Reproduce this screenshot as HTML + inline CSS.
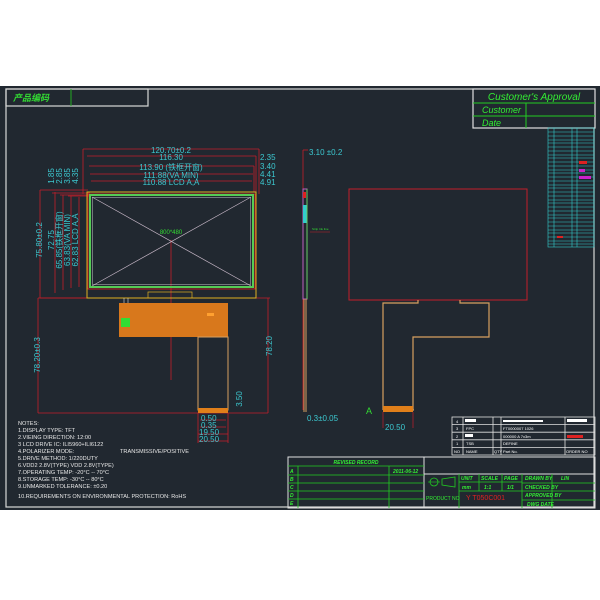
<!DOCTYPE html>
<html><head><meta charset="utf-8"><style>
html,body{margin:0;padding:0;background:#fff;}
svg{display:block;}
text{font-family:"Liberation Sans","Noto Sans CJK SC",sans-serif;}
</style></head><body>
<svg width="600" height="600" viewBox="0 0 600 600" xmlns="http://www.w3.org/2000/svg">
<rect x="0" y="0" width="600" height="600" fill="#fff"/>
<rect x="0" y="86" width="600" height="424" fill="#212830"/>
<rect x="6" y="89" width="588" height="418" fill="none" stroke="#d8d8d8" stroke-width="1.2"/>
<rect x="6" y="89" width="142" height="17" fill="none" stroke="#d8d8d8" stroke-width="1.2"/>
<line x1="71" y1="89" x2="71" y2="106" stroke="#2a2" />
<text x="13" y="101" font-size="9" fill="#33dd33" font-style="italic" font-weight="bold">产品编码</text>
<rect x="473" y="89" width="122" height="39" fill="#212830" stroke="#e0e0e0" stroke-width="1.2"/>
<line x1="473" y1="103" x2="595" y2="103" stroke="#2c2"/>
<line x1="473" y1="116" x2="595" y2="116" stroke="#2c2"/>
<line x1="526" y1="103" x2="526" y2="128" stroke="#2c2"/>
<text x="534" y="100" font-size="10" fill="#33ee33" font-style="italic" text-anchor="middle">Customer's Approval</text>
<text x="482" y="113" font-size="9" fill="#33ee33" font-style="italic">Customer</text>
<text x="482" y="126" font-size="9" fill="#33ee33" font-style="italic">Date</text>
<g stroke="#3cc" stroke-width="0.6" fill="none">
<rect x="548" y="128" width="46" height="119"/>
<line x1="554" y1="128" x2="554" y2="247"/><line x1="572" y1="128" x2="572" y2="247"/><line x1="577" y1="128" x2="577" y2="247"/>
<path d="M548 132H594M548 136H594M548 140H594M548 143H594M548 147H594M548 151H594M548 155H594M548 158H594M548 162H594M548 166H594M548 170H594M548 173H594M548 177H594M548 181H594M548 185H594M548 188H594M548 192H594M548 196H594M548 200H594M548 203H594M548 207H594M548 211H594M548 215H594M548 218H594M548 222H594M548 226H594M548 230H594M548 233H594M548 237H594M548 241H594M548 244H594"/>
</g>
<rect x="579" y="161" width="8" height="3" fill="#d22"/><rect x="579" y="169" width="6" height="3" fill="#c2c"/><rect x="579" y="176" width="12" height="3" fill="#c2c"/><rect x="557" y="236" width="6" height="2" fill="#d22"/>
<g stroke="#c41e2a" stroke-width="0.8" fill="none">
<line x1="83" y1="149" x2="259" y2="149"/>
<line x1="87" y1="156" x2="256" y2="156"/>
<line x1="89" y1="166" x2="254" y2="166"/>
<line x1="90" y1="174" x2="253" y2="174"/>
<line x1="91" y1="181" x2="252" y2="181"/>
<line x1="83" y1="149" x2="83" y2="194"/><line x1="259" y1="149" x2="259" y2="194"/>
<line x1="256" y1="156" x2="256" y2="192"/><line x1="254" y1="166" x2="254" y2="192"/>
<line x1="40" y1="190" x2="88" y2="190"/><line x1="40" y1="298" x2="88" y2="298"/>
<line x1="40" y1="190" x2="40" y2="298"/>
<line x1="55" y1="192" x2="55" y2="293"/><line x1="63" y1="195" x2="63" y2="290"/><line x1="71" y1="196" x2="71" y2="288"/><line x1="79" y1="197" x2="79" y2="287"/>
<line x1="52" y1="193" x2="90" y2="193"/><line x1="60" y1="195" x2="90" y2="195"/><line x1="68" y1="196" x2="90" y2="196"/>
<line x1="38" y1="298" x2="38" y2="413"/><line x1="268" y1="298" x2="268" y2="413"/>
<line x1="38" y1="413" x2="268" y2="413"/><line x1="38" y1="298" x2="270" y2="298"/>
<line x1="171" y1="240" x2="171" y2="380"/>
<line x1="198" y1="413" x2="198" y2="443"/><line x1="228" y1="413" x2="228" y2="443"/>
<line x1="200" y1="420" x2="226" y2="420"/><line x1="200" y1="427" x2="226" y2="427"/><line x1="198" y1="434" x2="228" y2="434"/><line x1="198" y1="441" x2="228" y2="441"/>
</g>
<rect x="87" y="192" width="169" height="106" fill="none" stroke="#e0b020" stroke-width="1"/>
<rect x="88" y="194" width="167" height="95" fill="none" stroke="#d22" stroke-width="0.8"/>
<rect x="90" y="195" width="163" height="92" fill="none" stroke="#5c5" stroke-width="2"/>
<rect x="92.5" y="197.5" width="158" height="87" fill="none" stroke="#c8c8c8" stroke-width="0.5"/>
<line x1="92" y1="197" x2="251" y2="286" stroke="#c8b8c8" stroke-width="0.7"/>
<line x1="251" y1="197" x2="92" y2="286" stroke="#c8b8c8" stroke-width="0.7"/>
<text x="171" y="234" font-size="6" fill="#33dd33" text-anchor="middle">800*480</text>
<rect x="148" y="292" width="44" height="6" fill="none" stroke="#e0b020" stroke-width="0.7"/>
<rect x="119" y="303" width="109" height="34" fill="#d8781c"/>
<rect x="121" y="318" width="9" height="9" fill="#33dd33"/>
<rect x="207" y="313" width="7" height="3" fill="#ffa030"/>
<line x1="124" y1="298" x2="124" y2="303" stroke="#ddd" stroke-width="0.6"/><line x1="128" y1="298" x2="128" y2="303" stroke="#ddd" stroke-width="0.6"/>
<rect x="198" y="337" width="30" height="73" fill="none" stroke="#d8a060" stroke-width="1"/>
<rect x="198" y="408" width="30" height="5" fill="#e07f1a"/>
<g fill="#3cc8d0" font-size="8" font-family="Liberation Mono,monospace">
<text x="171" y="153" text-anchor="middle">120.70±0.2</text>
<text x="171" y="160" text-anchor="middle">116.30</text>
<text x="171" y="170" text-anchor="middle">113.90 (铁框开窗)</text>
<text x="171" y="178" text-anchor="middle">111.88(VA  MIN)</text>
<text x="171" y="185" text-anchor="middle">110.88 LCD A,A</text>
<text x="260" y="160">2.35</text><text x="260" y="169">3.40</text><text x="260" y="177">4.41</text><text x="260" y="185">4.91</text>
<text transform="translate(42,240) rotate(-90)" text-anchor="middle">75.80±0.2</text>
<text transform="translate(54,240) rotate(-90)" text-anchor="middle">72.75</text>
<text transform="translate(62,240) rotate(-90)" text-anchor="middle">65.85(铁框开窗)</text>
<text transform="translate(70,240) rotate(-90)" text-anchor="middle">63.83(VA MIN)</text>
<text transform="translate(78,240) rotate(-90)" text-anchor="middle">62.83 LCD A,A</text>
<text transform="translate(54,176) rotate(-90)" text-anchor="middle">1.85</text>
<text transform="translate(62,176) rotate(-90)" text-anchor="middle">2.85</text>
<text transform="translate(70,176) rotate(-90)" text-anchor="middle">3.85</text>
<text transform="translate(78,176) rotate(-90)" text-anchor="middle">4.35</text>
<text transform="translate(40,355) rotate(-90)" text-anchor="middle">78.20±0.3</text>
<text transform="translate(272,346) rotate(-90)" text-anchor="middle">78.20</text>
<text transform="translate(242,399) rotate(-90)" text-anchor="middle">3.50</text>
<text x="201" y="421">0.50</text><text x="201" y="428">0.35</text><text x="199" y="435">19.50</text><text x="199" y="442">20.50</text>
<text x="309" y="155">3.10 ±0.2</text>
<text x="307" y="421">0.3±0.05</text>
<text x="385" y="430">20.50</text>
</g>
<line x1="303" y1="150" x2="303" y2="410" stroke="#c41e2a" stroke-width="0.8"/>
<line x1="303" y1="150" x2="308" y2="150" stroke="#c41e2a" stroke-width="0.8"/>
<rect x="303" y="189" width="4" height="110" fill="none" stroke="#c060c0" stroke-width="1"/>
<rect x="303" y="205" width="4" height="18" fill="#3cc"/>
<rect x="303" y="192" width="3" height="6" fill="#d22"/>
<line x1="307" y1="189" x2="307" y2="299" stroke="#6c6" stroke-width="1"/>
<line x1="304" y1="299" x2="304" y2="412" stroke="#d8a060" stroke-width="1"/>
<line x1="306" y1="299" x2="306" y2="412" stroke="#d8a060" stroke-width="1"/>
<text x="312" y="230" font-size="3" fill="#3d3">Strip  Ink line</text>
<line x1="310" y1="232" x2="330" y2="232" stroke="#c41e2a" stroke-width="0.5"/>
<rect x="349" y="189" width="178" height="111" fill="none" stroke="#c41e2a" stroke-width="1"/>
<path d="M418 300V303H383V410M413 410V337H489V303H460V300M414 410H383" fill="none" stroke="#d8a060" stroke-width="1.2"/>
<rect x="383" y="406" width="30" height="6" fill="#e07f1a"/>
<text x="366" y="414" font-size="9" fill="#33dd33">A</text>
<line x1="383" y1="412" x2="383" y2="428" stroke="#c41e2a" stroke-width="0.7"/><line x1="413" y1="412" x2="413" y2="428" stroke="#c41e2a" stroke-width="0.7"/>
<g fill="#e8e8e8" font-size="5.6" font-family="Liberation Mono,monospace">
<text x="18" y="425">NOTES:</text>
<text x="18" y="432">1.DISPLAY TYPE:       TFT</text>
<text x="18" y="439">2.VIEING DIRECTION:   12:00</text>
<text x="18" y="446">3 LCD DRIVE IC:    ILI5960+ILI6122</text>
<text x="18" y="453">4.POLARIZER MODE:</text><text x="120" y="453">TRANSMISSIVE/POSITIVE</text>
<text x="18" y="460">5.DRIVE METHOD:       1/220DUTY</text>
<text x="18" y="467">6.VDD2 2.8V(TYPE)     VDD 2.8V(TYPE)</text>
<text x="18" y="474">7.OPERATING TEMP:      -20°C -- 70°C</text>
<text x="18" y="481">8.STORAGE TEMP:        -30°C -- 80°C</text>
<text x="18" y="488">9.UNMARKED TOLERANCE: ±0.20</text>
<text x="18" y="498">10.REQUIREMENTS ON ENVIRONMENTAL PROTECTION: RoHS</text>
</g>
<g stroke="#e0e0e0" stroke-width="0.8" fill="none">
<rect x="452" y="417" width="143" height="38"/>
<path d="M452 424.6H595M452 432.2H595M452 439.8H595M452 447.4H595M463 417V455M493 417V455M501 417V455M565 417V455"/>
</g>
<g fill="#fff" font-size="4">
<text x="456" y="423">4</text><text x="456" y="430">3</text><text x="456" y="438">2</text><text x="456" y="445">1</text><text x="454" y="453">NO</text>
<text x="466" y="430">FPC</text><text x="466" y="445">TSB</text><text x="466" y="453">NAME</text><text x="494" y="453">QTY</text><text x="503" y="453">Part No.</text><text x="566" y="453">ORDER NO</text>
<text x="503" y="430">FT0000007 1026</text><text x="503" y="438">000000 A  7x3m</text><text x="503" y="445">DEFINE</text>
</g>
<rect x="465" y="419" width="11" height="3" fill="#fff"/><rect x="465" y="434" width="8" height="3" fill="#fff"/><rect x="503" y="420" width="40" height="2" fill="#fff"/><rect x="567" y="419" width="20" height="3" fill="#fff"/><rect x="567" y="435" width="16" height="3" fill="#d22"/>
<g stroke="#e0e0e0" stroke-width="1" fill="none">
<rect x="288" y="457" width="307" height="51"/>
<line x1="424" y1="457" x2="424" y2="508"/>
<line x1="424" y1="474" x2="595" y2="474"/>
</g>
<g stroke="#2c2" stroke-width="0.8" fill="none">
<path d="M288 466H424M288 475H424M288 483H424M288 491H424M288 499H424M298 466V508M389 466V508"/>
<path d="M459 474V508M479 474V491M502 474V491M522 474V508M459 482H522M459 491H522M522 483H595M522 491H595M522 500H595M552 474V508"/>
</g>
<g fill="#33ee33" font-size="5" font-style="italic" font-weight="bold">
<text x="356" y="464" text-anchor="middle">REVISED RECORD</text>
<text x="393" y="473">2011-06-12</text>
<text x="290" y="473">A</text><text x="290" y="481">B</text><text x="290" y="489">C</text><text x="290" y="497">D</text><text x="290" y="505">E</text>
<text x="461" y="480">UNIT</text><text x="481" y="480">SCALE</text><text x="504" y="480">PAGE</text>
<text x="462" y="489">mm</text><text x="484" y="489">1:1</text><text x="507" y="489">1/1</text>
<text x="525" y="480">DRAWN BY</text><text x="561" y="480">LIN</text>
<text x="525" y="489">CHECKED BY</text><text x="525" y="497">APPROVED BY</text><text x="527" y="506">DWG DATE</text>
</g>
<text x="426" y="500" font-size="5" fill="#33ee33">PRODUCT NO</text>
<text x="466" y="500" font-size="7" fill="#d22">Y T050C001</text>
<circle cx="434" cy="482" r="4" fill="none" stroke="#2c2" stroke-width="0.8"/>
<line x1="428" y1="482" x2="440" y2="482" stroke="#2c2" stroke-width="0.6"/>
<path d="M442 479L455 477V487L442 485Z" fill="none" stroke="#2c2" stroke-width="0.8"/>
</svg>
</body></html>
